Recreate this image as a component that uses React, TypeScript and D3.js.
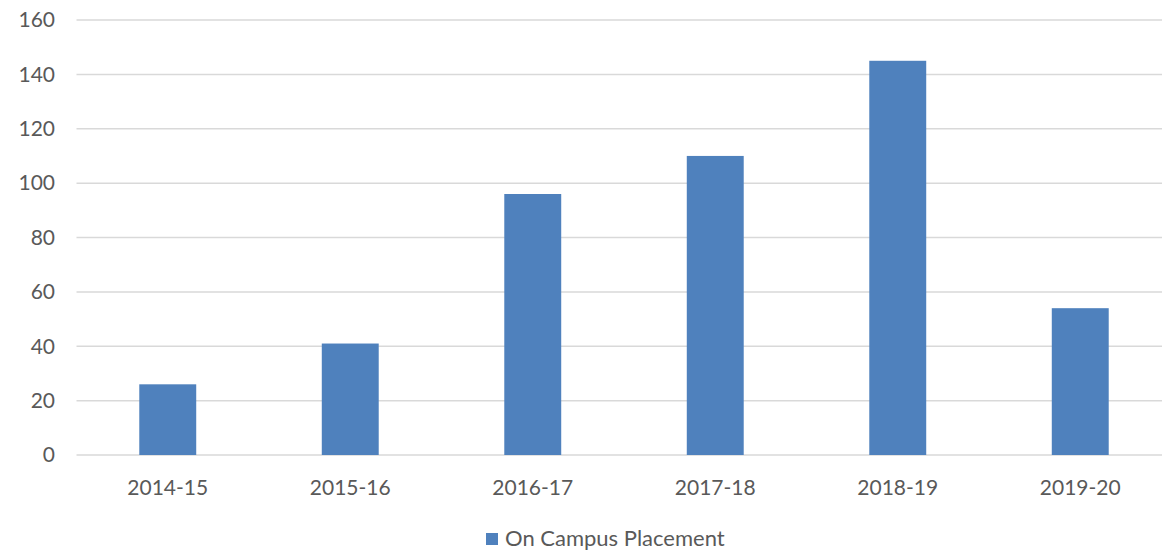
import React from 'react';
import * as d3 from 'd3';

const years = ['2014-15', '2015-16', '2016-17', '2017-18', '2018-19', '2019-20'];
const placements = [26, 41, 96, 110, 145, 54];
const yTicks = [0, 20, 40, 60, 80, 100, 120, 140, 160];
const seriesName = 'On Campus Placement';

export default function App() {
    const width = 1162;
    const height = 552;
    const font = 'Lato, "Open Sans", sans-serif';
    const textColor = '#595959';
    const barColor = '#4F81BD';

    const xScale = d3.scaleBand<string>()
        .domain(years)
        .range([76.5, 1171.5])
        .paddingInner(0.688)
        .paddingOuter(0.344);

    const yScale = d3.scaleLinear()
        .domain([0, 160])
        .range([455, 20]);

    return (
        <svg width={width} height={height} style={{ position: 'absolute', left: 0, top: 0 }}>
            <rect width={width} height={height} fill="white" />
            {/* gridlines */}
            {yTicks.map(t => (
                <line key={'g' + t} x1={76.5} x2={1171.5} y1={yScale(t)} y2={yScale(t)}
                    stroke="#d9d9d9" strokeWidth={1.5} />
            ))}
            {/* y tick labels */}
            {yTicks.map(t => (
                <text key={'t' + t} x={55} y={yScale(t)} dy="0.35em" textAnchor="end"
                    fontFamily={font} fontSize={21} fill={textColor}>{t}</text>
            ))}
            {/* bars */}
            {placements.map((v, i) => (
                <rect key={'b' + i} x={xScale(years[i])} y={yScale(v)}
                    width={xScale.bandwidth()} height={yScale(0) - yScale(v)} fill={barColor} />
            ))}
            {/* x labels */}
            {years.map(y => (
                <text key={'x' + y} x={(xScale(y) as number) + xScale.bandwidth() / 2} y={495}
                    textAnchor="middle" fontFamily={font} fontSize={21} fill={textColor}>{y}</text>
            ))}
            {/* legend */}
            <rect x={486} y={533} width={12} height={12} fill={barColor} />
            <text x={505} y={546} fontFamily={font} fontSize={22} fill={textColor}>{seriesName}</text>
        </svg>
    );
}
